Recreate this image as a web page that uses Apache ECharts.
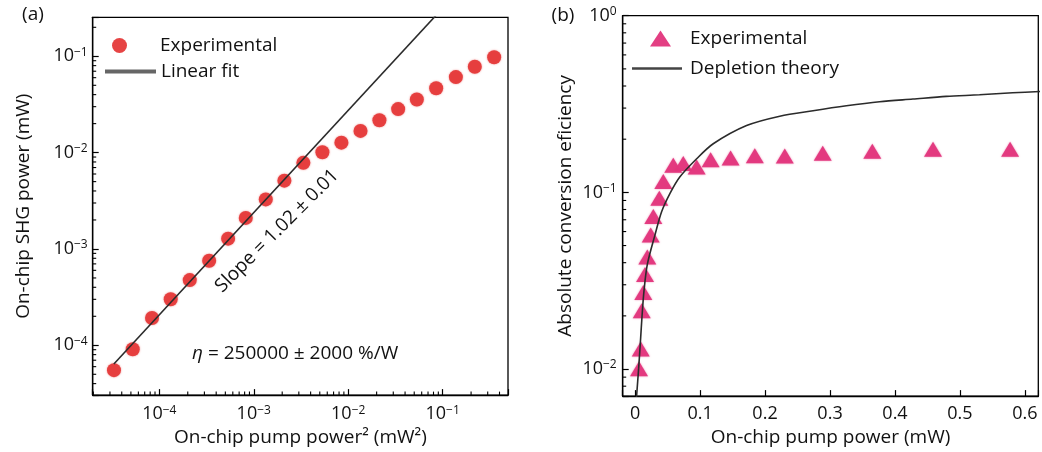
<!DOCTYPE html>
<html><head><meta charset="utf-8">
<script src="https://cdn.jsdelivr.net/npm/echarts@6/dist/echarts.min.js"></script>
<style>html,body{margin:0;padding:0;background:#fff}#c{width:1042px;height:452px}</style>
</head><body><div id="c"></div>
<script>
const FONT = "'Open Sans', 'Noto Sans', sans-serif";

// ---- Panel (a): SHG power vs pump power squared ----
const pumpSq = [3.31e-5, 5.23e-5, 8.37e-5, 1.32e-4, 2.10e-4, 3.37e-4, 5.35e-4, 8.23e-4, 1.34e-3, 2.11e-3, 3.35e-3, 5.33e-3, 8.47e-3, 1.35e-2, 2.14e-2, 3.38e-2, 5.33e-2, 8.54e-2, 0.138, 0.219, 0.351];
const shgPower = [5.52e-5, 9.08e-5, 1.92e-4, 3.01e-4, 4.75e-4, 7.53e-4, 1.28e-3, 2.10e-3, 3.27e-3, 5.12e-3, 7.83e-3, 1.01e-2, 1.27e-2, 1.68e-2, 2.17e-2, 2.83e-2, 3.56e-2, 4.66e-2, 6.08e-2, 7.78e-2, 9.77e-2];
const fitPumpSq = [3.3e-5, 0.085];
const fitShg = [6.4e-5, 0.266];
const xRangeA = [1.97e-5, 0.492];
const yRangeA = [3.04e-5, 0.254];

// ---- Panel (b): conversion efficiency vs pump power ----
const pumpPower = [0.0061, 0.0088, 0.0103, 0.0127, 0.0154, 0.0189, 0.0241, 0.0281, 0.0373, 0.0435, 0.0588, 0.0742, 0.0948, 0.1163, 0.147, 0.1843, 0.2304, 0.2888, 0.3651, 0.4585, 0.5771];
const convEff = [0.01005, 0.0130, 0.0214, 0.0271, 0.0343, 0.0431, 0.0573, 0.0731, 0.0925, 0.1153, 0.1423, 0.1455, 0.1394, 0.1532, 0.1566, 0.1614, 0.1607, 0.1667, 0.1711, 0.1755, 0.1752];
const theoryPump = [0.0022, 0.0055, 0.0084, 0.0108, 0.0138, 0.0189, 0.0307, 0.041, 0.0538, 0.0691, 0.0948, 0.1203, 0.1716, 0.2227, 0.2739, 0.3252, 0.3763, 0.4275, 0.4788, 0.530, 0.5811, 0.625];
const theoryEff = [0.0069, 0.01005, 0.01455, 0.0201, 0.0278, 0.0391, 0.0575, 0.0779, 0.0987, 0.1225, 0.155, 0.1885, 0.239, 0.270, 0.290, 0.3093, 0.326, 0.3375, 0.3494, 0.3566, 0.366, 0.3726];
const xRangeB = [-0.019, 0.6205];
const yRangeB = [7.03e-3, 1];

const zip = (a, b) => a.map((v, i) => [v, b[i]]);

function logLabel(v) {
  const e = Math.log10(v), r = Math.round(e);
  if (Math.abs(e - r) > 1e-6) return '';
  return '{b|10}{s|' + (r < 0 ? '\u2212' : '') + Math.abs(r) + '}';
}
const supRich = {
  b: { fontSize: 18, fontFamily: FONT, color: '#111', lineHeight: 20 },
  s: { fontSize: 12, fontFamily: FONT, color: '#111', verticalAlign: 'top', lineHeight: 13 }
};
// minor tick positions (2..9 x 10^k) inside an axis range
function minorList(lo, hi) {
  const out = [];
  for (let k = -7; k <= 1; k++) for (let m = 2; m <= 9; m++) {
    const v = m * Math.pow(10, k);
    if (v > lo && v < hi) out.push(v);
  }
  return out;
}
function minorX(xi, yi, vals, yBase) {
  return { type: 'custom', xAxisIndex: xi, yAxisIndex: yi, silent: true, clip: false, z: 5,
    data: vals.map(v => [v, yBase]),
    renderItem: (p, api) => { const c = api.coord([api.value(0), api.value(1)]);
      return { type: 'line', shape: { x1: c[0], y1: c[1], x2: c[0], y2: c[1] - 3.5 }, style: { stroke: '#000', lineWidth: 1.1 } }; } };
}
function minorY(xi, yi, vals, xBase) {
  return { type: 'custom', xAxisIndex: xi, yAxisIndex: yi, silent: true, clip: false, z: 5,
    data: vals.map(v => [xBase, v]),
    renderItem: (p, api) => { const c = api.coord([api.value(0), api.value(1)]);
      return { type: 'line', shape: { x1: c[0], y1: c[1], x2: c[0] + 3.5, y2: c[1] }, style: { stroke: '#000', lineWidth: 1.1 } }; } };
}

const tickCommon = () => ({ show: true, inside: true, length: 6, lineStyle: { color: '#000', width: 1.2 } });
const lineCommon = () => ({ show: true, onZero: false, lineStyle: { color: '#000', width: 1.3 } });
const nameStyle = { fontSize: 19, fontFamily: FONT, color: '#111' };
const legText = { fontSize: 19, fontFamily: FONT, color: '#111' };

const chart = echarts.init(document.getElementById('c'), null, { renderer: 'canvas' });
chart.setOption({
  animation: false,
  backgroundColor: '#fff',
  grid: [
    { left: 92.7, top: 17.3, width: 415.3, height: 381.7, show: true, borderColor: '#000', borderWidth: 1.3, backgroundColor: 'transparent' },
    { left: 622.7, top: 15.7, width: 415.6, height: 383.6, show: true, borderColor: '#000', borderWidth: 1.3, backgroundColor: 'transparent' }
  ],
  xAxis: [
    { type: 'log', gridIndex: 0, min: xRangeA[0], max: xRangeA[1], logBase: 10,
      axisLine: lineCommon(), axisTick: tickCommon(), splitLine: { show: false },
      axisLabel: { formatter: logLabel, rich: supRich, margin: 9 },
      name: 'On-chip pump power\u00b2 (mW\u00b2)', nameLocation: 'middle', nameGap: 29, nameTextStyle: nameStyle },
    { type: 'value', gridIndex: 1, min: xRangeB[0], max: xRangeB[1],
      axisLine: lineCommon(), axisTick: tickCommon(), splitLine: { show: false },
      axisLabel: { fontSize: 18, fontFamily: FONT, color: '#111', margin: 9,
        formatter: v => (Math.abs(v * 10 - Math.round(v * 10)) < 1e-6) ? String(Math.round(v * 10) / 10) : '' },
      name: 'On-chip pump power (mW)', nameLocation: 'middle', nameGap: 29, nameTextStyle: nameStyle }
  ],
  yAxis: [
    { type: 'log', gridIndex: 0, min: yRangeA[0], max: yRangeA[1], logBase: 10,
      axisLine: lineCommon(), axisTick: tickCommon(), splitLine: { show: false },
      axisLabel: { formatter: logLabel, rich: supRich, margin: 5 },
      name: 'On-chip SHG power (mW)', nameLocation: 'middle', nameGap: 60, nameTextStyle: nameStyle },
    { type: 'log', gridIndex: 1, min: yRangeB[0], max: yRangeB[1], logBase: 10,
      axisLine: lineCommon(), axisTick: tickCommon(), splitLine: { show: false },
      axisLabel: { formatter: logLabel, rich: supRich, margin: 6 },
      name: 'Absolute conversion eficiency', nameLocation: 'middle', nameGap: 48, nameTextStyle: nameStyle }
  ],
  legend: [
    { data: [{ name: 'Experimental (a)', icon: 'circle' }], left: 112, top: 36, padding: 0, itemWidth: 15, itemHeight: 15,
      selectedMode: false, formatter: () => 'Experimental', textStyle: Object.assign({ padding: [0, 0, 0, 28] }, legText) },
    { data: [{ name: 'Linear fit', icon: 'rect', itemStyle: { color: '#666' } }], left: 105, top: 62, padding: 0, itemWidth: 51, itemHeight: 4,
      selectedMode: false, textStyle: legText },
    { data: [{ name: 'Experimental (b)', icon: 'triangle' }], left: 650, top: 29, padding: 0, itemWidth: 21, itemHeight: 16,
      selectedMode: false, formatter: () => 'Experimental', textStyle: Object.assign({ padding: [0, 0, 0, 14] }, legText) },
    { data: [{ name: 'Depletion theory', icon: 'rect', itemStyle: { color: '#444' } }], left: 632, top: 59, padding: 0, itemWidth: 50, itemHeight: 2.5,
      selectedMode: false, textStyle: Object.assign({ padding: [0, 0, 0, 3] }, legText) }
  ],
  series: [
    { name: 'Linear fit', type: 'line', xAxisIndex: 0, yAxisIndex: 0, data: zip(fitPumpSq, fitShg), symbol: 'none',
      lineStyle: { color: '#2b2b2b', width: 1.6 }, itemStyle: { color: '#666' }, clip: true, z: 4 },
    { name: 'Experimental (a)', type: 'scatter', xAxisIndex: 0, yAxisIndex: 0, data: zip(pumpSq, shgPower), symbol: 'circle', symbolSize: 14,
      itemStyle: { color: '#e53a3a', opacity: 0.95, shadowBlur: 2, shadowColor: 'rgba(229,58,58,0.6)' }, z: 3 },
    { name: 'Depletion theory', type: 'line', xAxisIndex: 1, yAxisIndex: 1, data: zip(theoryPump, theoryEff), symbol: 'none', smooth: 0.3,
      lineStyle: { color: '#2b2b2b', width: 1.6 }, itemStyle: { color: '#444' }, clip: true, z: 4 },
    { name: 'Experimental (b)', type: 'scatter', xAxisIndex: 1, yAxisIndex: 1, data: zip(pumpPower, convEff), symbol: 'triangle', symbolSize: [18, 15],
      itemStyle: { color: '#e2357c', opacity: 0.95, shadowBlur: 2, shadowColor: 'rgba(226,53,124,0.6)' }, z: 3 },
    minorX(0, 0, minorList(xRangeA[0], xRangeA[1]), yRangeA[0]),
    minorY(0, 0, minorList(yRangeA[0], yRangeA[1]), xRangeA[0]),
    minorY(1, 1, minorList(yRangeB[0], yRangeB[1]), xRangeB[0])
  ],
  graphic: [
    { type: 'text', x: 33, y: 15, style: { text: '(a)', fontSize: 19, fontFamily: FONT, fill: '#111', align: 'center', verticalAlign: 'middle' } },
    { type: 'text', x: 563, y: 16, style: { text: '(b)', fontSize: 19, fontFamily: FONT, fill: '#111', align: 'center', verticalAlign: 'middle' } },
    { type: 'text', x: 277, y: 231, rotation: Math.PI / 4, style: { text: 'Slope = 1.02 \u00b1 0.01', fontSize: 19, fontFamily: FONT, fill: '#111', align: 'center', verticalAlign: 'middle' } },
    { type: 'text', x: 192, y: 354, style: { text: '{i|\u03b7} = 250000 \u00b1 2000 %/W', fontSize: 19, fontFamily: FONT, fill: '#111', align: 'left', verticalAlign: 'middle',
      rich: { i: { fontStyle: 'italic', fontSize: 19, fontFamily: FONT, fill: '#111' } } } }
  ]
});
</script></body></html>
